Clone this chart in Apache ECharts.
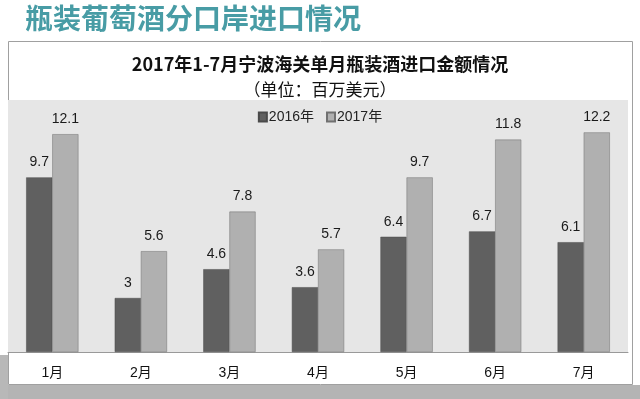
<!DOCTYPE html>
<html><head><meta charset="utf-8">
<script src="https://cdn.jsdelivr.net/npm/echarts@6/dist/echarts.min.js"></script>
<style>html,body{margin:0;padding:0;background:#fff;}#c{width:640px;height:399px;}</style>
</head><body><div id="c"></div>
<script>
var categories = ['1月','2月','3月','4月','5月','6月','7月'];
var s2016 = [9.7, 3, 4.6, 3.6, 6.4, 6.7, 6.1];
var s2017 = [12.1, 5.6, 7.8, 5.7, 9.7, 11.8, 12.2];
var seriesNames = ['2016年','2017年'];
var pageTitle = '瓶装葡萄酒分口岸进口情况';
var chartTitle = '2017年1-7月宁波海关单月瓶装酒进口金额情况';
var chartSub = '（单位：百万美元）';

var chart = echarts.init(document.getElementById('c'), null, {renderer:'canvas'});
var lbl = {show:true, position:'top', color:'#1a1a1a', fontSize:14, fontFamily:'Liberation Sans, Arial, sans-serif', distance:8};
chart.setOption({
  animation:false,
  backgroundColor:'#fff',
  graphic:[
    {type:'rect', shape:{x:0,y:385,width:640,height:14}, style:{fill:'#b4b4b4'}, z:-10},
    {type:'rect', shape:{x:0,y:355,width:8,height:44}, style:{fill:'#b8b8b8'}, z:-10},
    {type:'rect', shape:{x:8.5,y:41.5,width:624,height:343}, style:{fill:'#fff', stroke:'#a0a0a0', lineWidth:1}, z:-5},
    {type:'text', left:25, top:4, style:{text:pageTitle, fill:'#489ca5', font:'bold 28px "Noto Sans CJK SC"'}}
  ],
  title:[
    {text:chartTitle, left:'center', top:50, textStyle:{fontSize:18, fontWeight:'bold', color:'#111', fontFamily:'"Noto Sans CJK SC", Liberation Sans'}},
    {text:chartSub, left:'center', top:76, textStyle:{fontSize:17, fontWeight:'normal', color:'#111', fontFamily:'"Noto Sans CJK SC"'}}
  ],
  legend:{data:seriesNames, top:105, left:'center', icon:'rect', itemWidth:8, itemHeight:9, itemGap:12,
    textStyle:{fontSize:14, color:'#222', fontFamily:'Liberation Sans, "Noto Sans CJK SC"', padding:[0,0,0,-3]}},
  grid:{left:8, right:12, top:100, bottom:47, show:true, backgroundColor:'#e6e6e6', borderWidth:0},
  xAxis:{type:'category', data:categories, axisTick:{show:false},
    axisLine:{lineStyle:{color:'#999', width:1}},
    axisLabel:{fontSize:14, color:'#111', margin:14, fontFamily:'Liberation Sans, "Noto Sans CJK SC"'}},
  yAxis:{type:'value', min:0, max:14, show:false, splitLine:{show:false}},
  series:[
    {name:seriesNames[0], type:'bar', data:s2016, barGap:'0%', barCategoryGap:'41%',
      itemStyle:{color:'#606060', borderColor:'#4a4a4a', borderWidth:0.5}, label:lbl},
    {name:seriesNames[1], type:'bar', data:s2017,
      itemStyle:{color:'#b0b0b0', borderColor:'#707070', borderWidth:0.5}, label:lbl}
  ]
});
</script></body></html>
